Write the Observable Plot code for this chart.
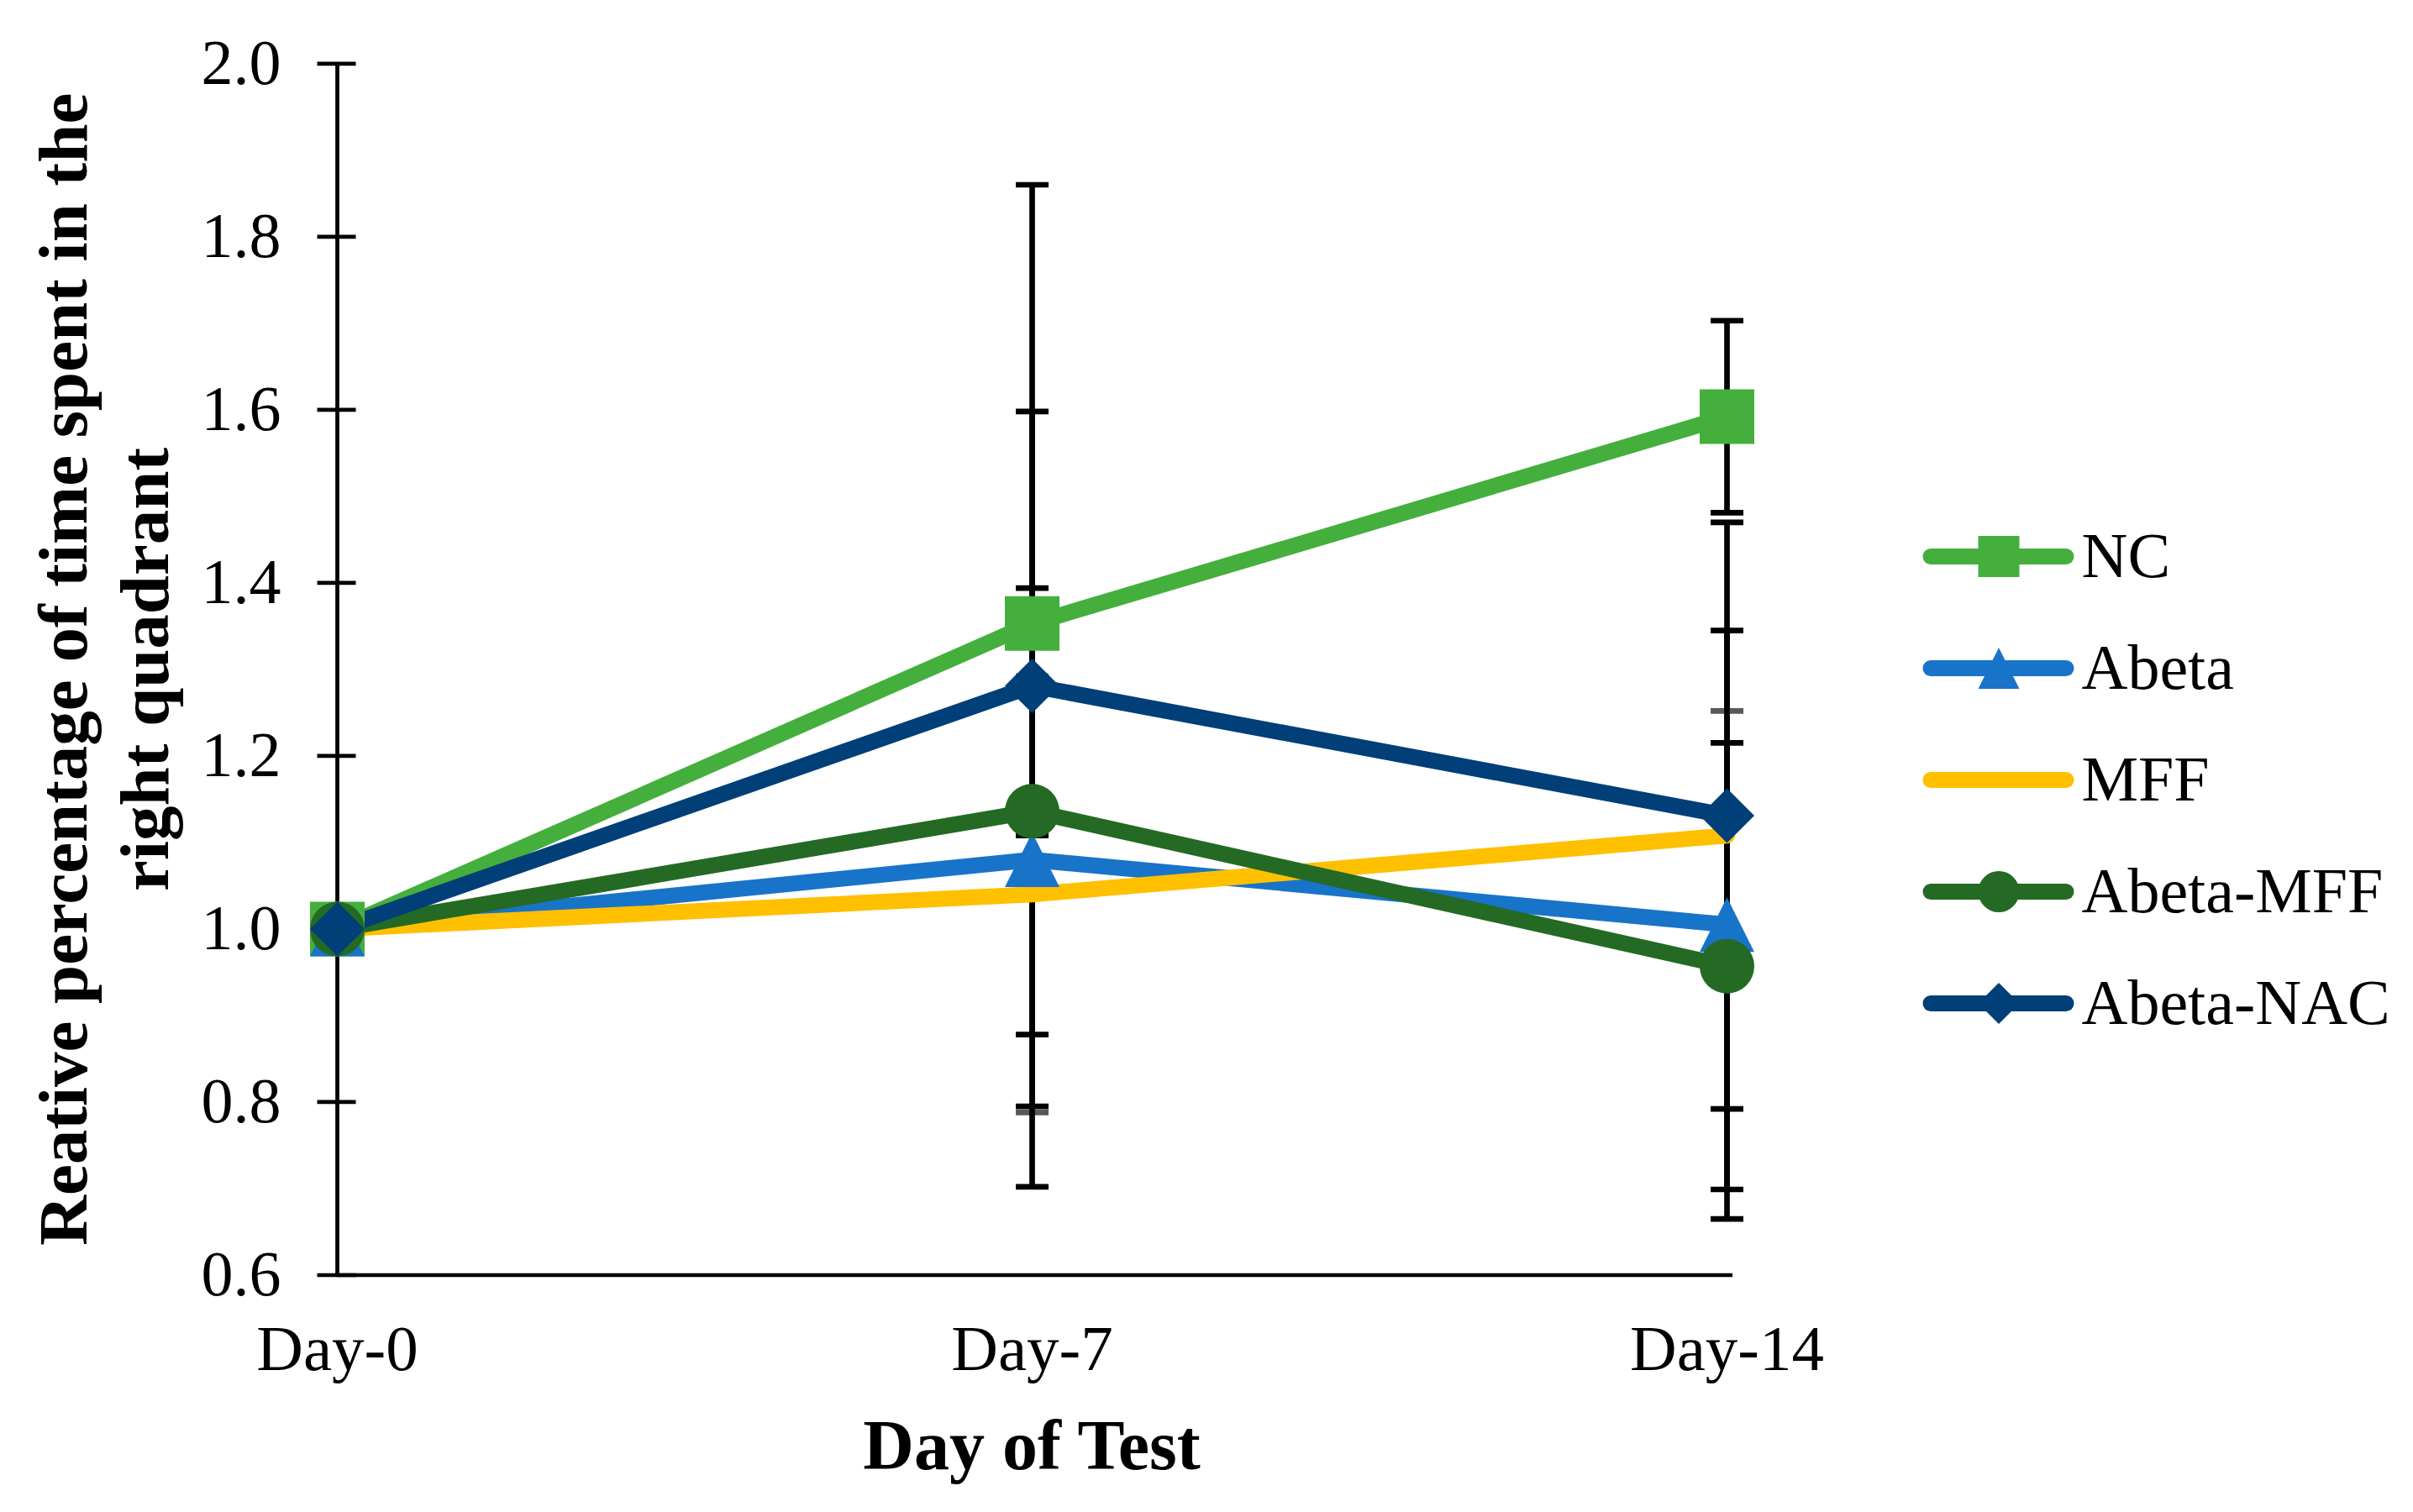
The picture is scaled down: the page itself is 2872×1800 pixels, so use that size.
<!DOCTYPE html>
<html><head><meta charset="utf-8">
<script src="https://cdn.jsdelivr.net/npm/d3@7"></script>
<script src="https://cdn.jsdelivr.net/npm/@observablehq/plot@0.6"></script>
<style>
html,body{margin:0;padding:0;background:#fff;}
#wrap{position:relative;width:2872px;height:1800px;overflow:hidden;background:#fff;}
#chart{position:absolute;left:0;top:0;}
#legend{position:absolute;left:2280px;top:600px;}
</style></head><body>
<div id="wrap"><div id="chart"></div><div id="legend"></div></div>
<script>
// ---- data ----
const days = ["Day-0", "Day-7", "Day-14"];
const seriesNames = ["NC", "Abeta", "MFF", "Abeta-MFF", "Abeta-NAC"];
const seriesColors = ["#45AF3D", "#1874C8", "#FFC000", "#246A24", "#003F77"];
const errorColors = ["#000000", "#000000", "#595959", "#000000", "#000000"];
const seriesSymbols = ["square", "triangle", null, "circle", "diamond"];

const valuesNC = [1.0, 1.353, 1.592];
const valuesAbeta = [1.0, 1.080, 1.005];
const valuesMFF = [1.0, 1.040, 1.108];
const valuesAbetaMFF = [1.0, 1.136, 0.957];
const valuesAbetaNAC = [1.0, 1.281, 1.131];

const errNC = [0, 0.245, 0.111];
const errAbeta = [0, 0.285, 0.340];
const errMFF = [0, 0.252, 0.144];
const errAbetaMFF = [0, 0.258, 0.258];
const errAbetaNAC = [0, 0.579, 0.339];

const yTicks = [0.6, 0.8, 1.0, 1.2, 1.4, 1.6, 1.8, 2.0];

const xTitle = "Day of Test";
const yTitle = "Reative percentage of time spent in the\nright quadrant";

// ---- derived tables ----
const allValues = [valuesNC, valuesAbeta, valuesMFF, valuesAbetaMFF, valuesAbetaNAC];
const allErrors = [errNC, errAbeta, errMFF, errAbetaMFF, errAbetaNAC];

const series = seriesNames.map((name, s) => ({
  name,
  color: seriesColors[s],
  errColor: errorColors[s],
  symbol: seriesSymbols[s],
  rows: days.map((day, i) => ({series: name, day, value: allValues[s][i], err: allErrors[s][i]}))
}));

// ---- symbols ----
function shape(name) {
  const draw = {
    square(c, h) { c.rect(-h, -h, 2 * h, 2 * h); },
    triangle(c, h) { c.moveTo(0, -h); c.lineTo(h, h); c.lineTo(-h, h); c.closePath(); },
    diamond(c, h) { c.moveTo(0, -h); c.lineTo(h, 0); c.lineTo(0, h); c.lineTo(-h, 0); c.closePath(); },
    circle(c, h) { c.moveTo(h, 0); c.arc(0, 0, h, 0, 2 * Math.PI); },
    hline(c, h) { c.moveTo(-h, 0); c.lineTo(h, 0); }
  }[name];
  return {draw(context, size) { draw(context, Math.sqrt(size / Math.PI)); }};
}
const hline = shape("hline");

const FONT = "'Liberation Serif','Times New Roman',Times,serif";

// ---- main chart marks ----
const marks = [];

// axes lines
marks.push(Plot.ruleX([days[0]], {y1: yTicks[0], y2: yTicks[yTicks.length - 1], stroke: "black", strokeWidth: 4.7}));
marks.push(Plot.ruleY([yTicks[0]], {stroke: "black", strokeWidth: 4.7, insetRight: -7}));
// y tick marks crossing the axis
marks.push(Plot.dot(yTicks, {y: d => d, frameAnchor: "left", symbol: hline, r: 23, fill: "none", stroke: "black", strokeWidth: 4.7}));
marks.push(Plot.axisY(yTicks, {tickSize: 0, tickPadding: 66, tickFormat: d3.format(".1f"), fontSize: 76, label: null}));
marks.push(Plot.axisX({tickSize: 0, tickPadding: 58, fontSize: 77, label: null}));

// error bars
for (const s of series) {
  const rows = s.rows.filter(d => d.err > 0);
  const caps = rows.flatMap(d => [{day: d.day, y: d.value + d.err}, {day: d.day, y: d.value - d.err}]);
  marks.push(Plot.ruleX(rows, {x: "day", y1: d => d.value - d.err, y2: d => d.value + d.err, stroke: s.errColor, strokeWidth: 6.7}));
  marks.push(Plot.dot(caps, {x: "day", y: "y", symbol: hline, r: 19.5, fill: "none", stroke: s.errColor, strokeWidth: 6.7}));
}
// lines
for (const s of series) {
  marks.push(Plot.line(s.rows, {x: "day", y: "value", stroke: s.color, strokeWidth: 19, strokeLinecap: "round", strokeLinejoin: "round"}));
}
// markers
for (const s of series) {
  if (!s.symbol) continue;
  marks.push(Plot.dot(s.rows, {x: "day", y: "value", symbol: shape(s.symbol), r: 32.5, fill: s.color, stroke: "none"}));
}
// titles
marks.push(Plot.text([xTitle], {text: d => d, frameAnchor: "bottom", textAnchor: "middle", dy: 230.5, lineAnchor: "bottom", fontWeight: "bold", fontSize: 84}));
marks.push(Plot.text([yTitle], {text: d => d, frameAnchor: "left", textAnchor: "middle", rotate: -90, dx: -201, lineAnchor: "bottom", lineHeight: 1.157, fontWeight: "bold", fontSize: 83}));

const chart = Plot.plot({
  width: 2872,
  height: 1800,
  marginLeft: 400,
  marginRight: 817,
  marginTop: 75.3,
  marginBottom: 282.5,
  x: {type: "point", domain: days, padding: 0},
  y: {domain: [yTicks[0], yTicks[yTicks.length - 1]]},
  style: {fontFamily: FONT, fontSize: "76px", background: "white", color: "black", overflow: "visible"},
  marks
});
document.getElementById("chart").appendChild(chart);

// ---- legend (a small Plot) ----
const legendMarks = [];
for (const s of series) {
  legendMarks.push(Plot.ruleY([s.name], {x1: 0, x2: 1, stroke: s.color, strokeWidth: 19, strokeLinecap: "round"}));
  if (s.symbol) legendMarks.push(Plot.dot([s.name], {x: 0.5, y: d => d, symbol: shape(s.symbol), r: 24.5, fill: s.color, stroke: "none"}));
}
legendMarks.push(Plot.text(seriesNames, {x: 1, y: d => d, text: d => d, dx: 18, textAnchor: "start", fontSize: 76, fill: "black"}));

const legend = Plot.plot({
  width: 590,
  height: 680,
  margin: 0,
  x: {domain: [0, 1], range: [18, 179], axis: null},
  y: {type: "point", domain: seriesNames, range: [62, 594], padding: 0, axis: null},
  style: {fontFamily: FONT, fontSize: "76px", background: "transparent", overflow: "visible"},
  marks: legendMarks
});
document.getElementById("legend").appendChild(legend);
</script>
</body></html>
